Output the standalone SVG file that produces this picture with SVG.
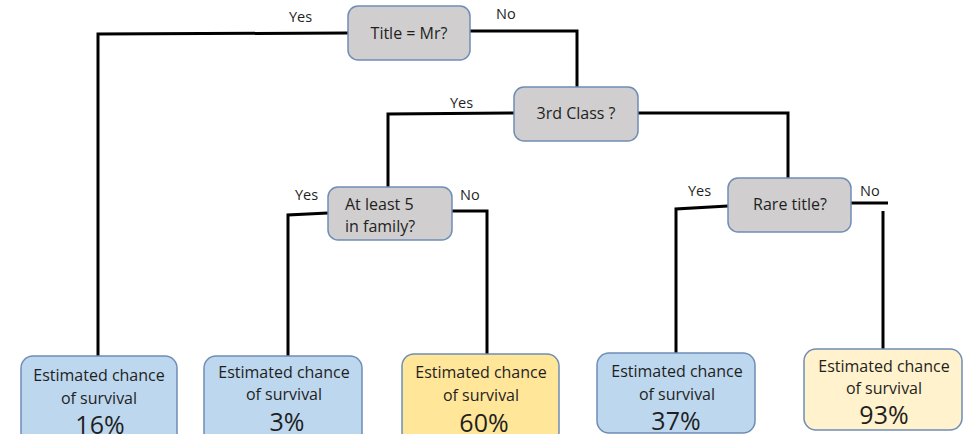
<svg xmlns="http://www.w3.org/2000/svg" width="969" height="434" viewBox="0 0 969 434">
  <style>
    .q { fill: #d0cece; stroke: #6f8db5; stroke-width: 1.5; }
    .blue { fill: #bdd7ee; stroke: #6f8db5; stroke-width: 1.5; }
    .gold { fill: #ffe699; stroke: #6f8db5; stroke-width: 1.5; }
    .cream { fill: #fff2cc; stroke: #6f8db5; stroke-width: 1.5; }
    text { font-family: "Open Sans", "Liberation Sans", sans-serif; fill: #1f1f1f; }
    .t { font-size: 16px; text-anchor: middle; }
    .tl { font-size: 16px; }
    .lab { font-size: 14.5px; }
    .pct { font-size: 25px; text-anchor: middle; }
    .edge { fill: none; stroke: #000; stroke-width: 3; }
  </style>

  <!-- connectors -->
  <g id="connectors">
    <polyline class="edge" points="348,33 98,34 98,356"/>
    <polyline class="edge" points="470,31 577,31 577,88"/>
    <polyline class="edge" points="514,113 388,114 388,187"/>
    <polyline class="edge" points="638,113 788,113 788,178"/>
    <polyline class="edge" points="328,213 288,215 288,356"/>
    <polyline class="edge" points="452,211 487,211 487,354"/>
    <polyline class="edge" points="728,206 676,209 676,353"/>
    <polyline class="edge" points="851,203 888,203"/>
    <polyline class="edge" points="883,211 883,349"/>
  </g>

  <!-- edge labels -->
  <g id="labels">
    <text class="lab" x="289" y="22">Yes</text>
    <text class="lab" x="496" y="19">No</text>
    <text class="lab" x="450" y="108">Yes</text>
    <text class="lab" x="295" y="200">Yes</text>
    <text class="lab" x="460" y="200">No</text>
    <text class="lab" x="688" y="196">Yes</text>
    <text class="lab" x="860" y="196">No</text>
  </g>

  <g id="q-title">
    <rect class="q" x="348" y="6" width="122" height="54" rx="10"/>
    <text class="t" x="409" y="39">Title = Mr?</text>
  </g>

  <g id="q-class">
    <rect class="q" x="514" y="87" width="124" height="54" rx="10"/>
    <text class="t" x="576" y="119">3rd Class ?</text>
  </g>

  <g id="q-family">
    <rect class="q" x="328" y="187" width="124" height="53" rx="10"/>
    <text class="tl" x="345" y="210">At least 5</text>
    <text class="tl" x="345" y="232">in family?</text>
  </g>

  <g id="q-rare">
    <rect class="q" x="728" y="178" width="123" height="54" rx="10"/>
    <text class="t" x="790" y="210">Rare title?</text>
  </g>

  <g id="leaf-16">
    <rect class="blue" x="21" y="356" width="156" height="90" rx="12"/>
    <text class="t" x="99" y="381">Estimated chance</text>
    <text class="t" x="99" y="404">of survival</text>
    <text class="pct" x="100" y="434">16%</text>
  </g>

  <g id="leaf-3">
    <rect class="blue" x="204" y="356" width="158" height="90" rx="12"/>
    <text class="t" x="284" y="378">Estimated chance</text>
    <text class="t" x="284" y="400">of survival</text>
    <text class="pct" x="287" y="431">3%</text>
  </g>

  <g id="leaf-60">
    <rect class="gold" x="402" y="354" width="157" height="90" rx="12"/>
    <text class="t" x="481" y="378">Estimated chance</text>
    <text class="t" x="481" y="401">of survival</text>
    <text class="pct" x="484" y="432">60%</text>
  </g>

  <g id="leaf-37">
    <rect class="blue" x="597" y="353" width="158" height="80" rx="12"/>
    <text class="t" x="677" y="377">Estimated chance</text>
    <text class="t" x="677" y="400">of survival</text>
    <text class="pct" x="676" y="430">37%</text>
  </g>

  <g id="leaf-93">
    <rect class="cream" x="804" y="349" width="158" height="81" rx="12"/>
    <text class="t" x="884" y="372">Estimated chance</text>
    <text class="t" x="884" y="394">of survival</text>
    <text class="pct" x="884" y="424">93%</text>
  </g>
</svg>
